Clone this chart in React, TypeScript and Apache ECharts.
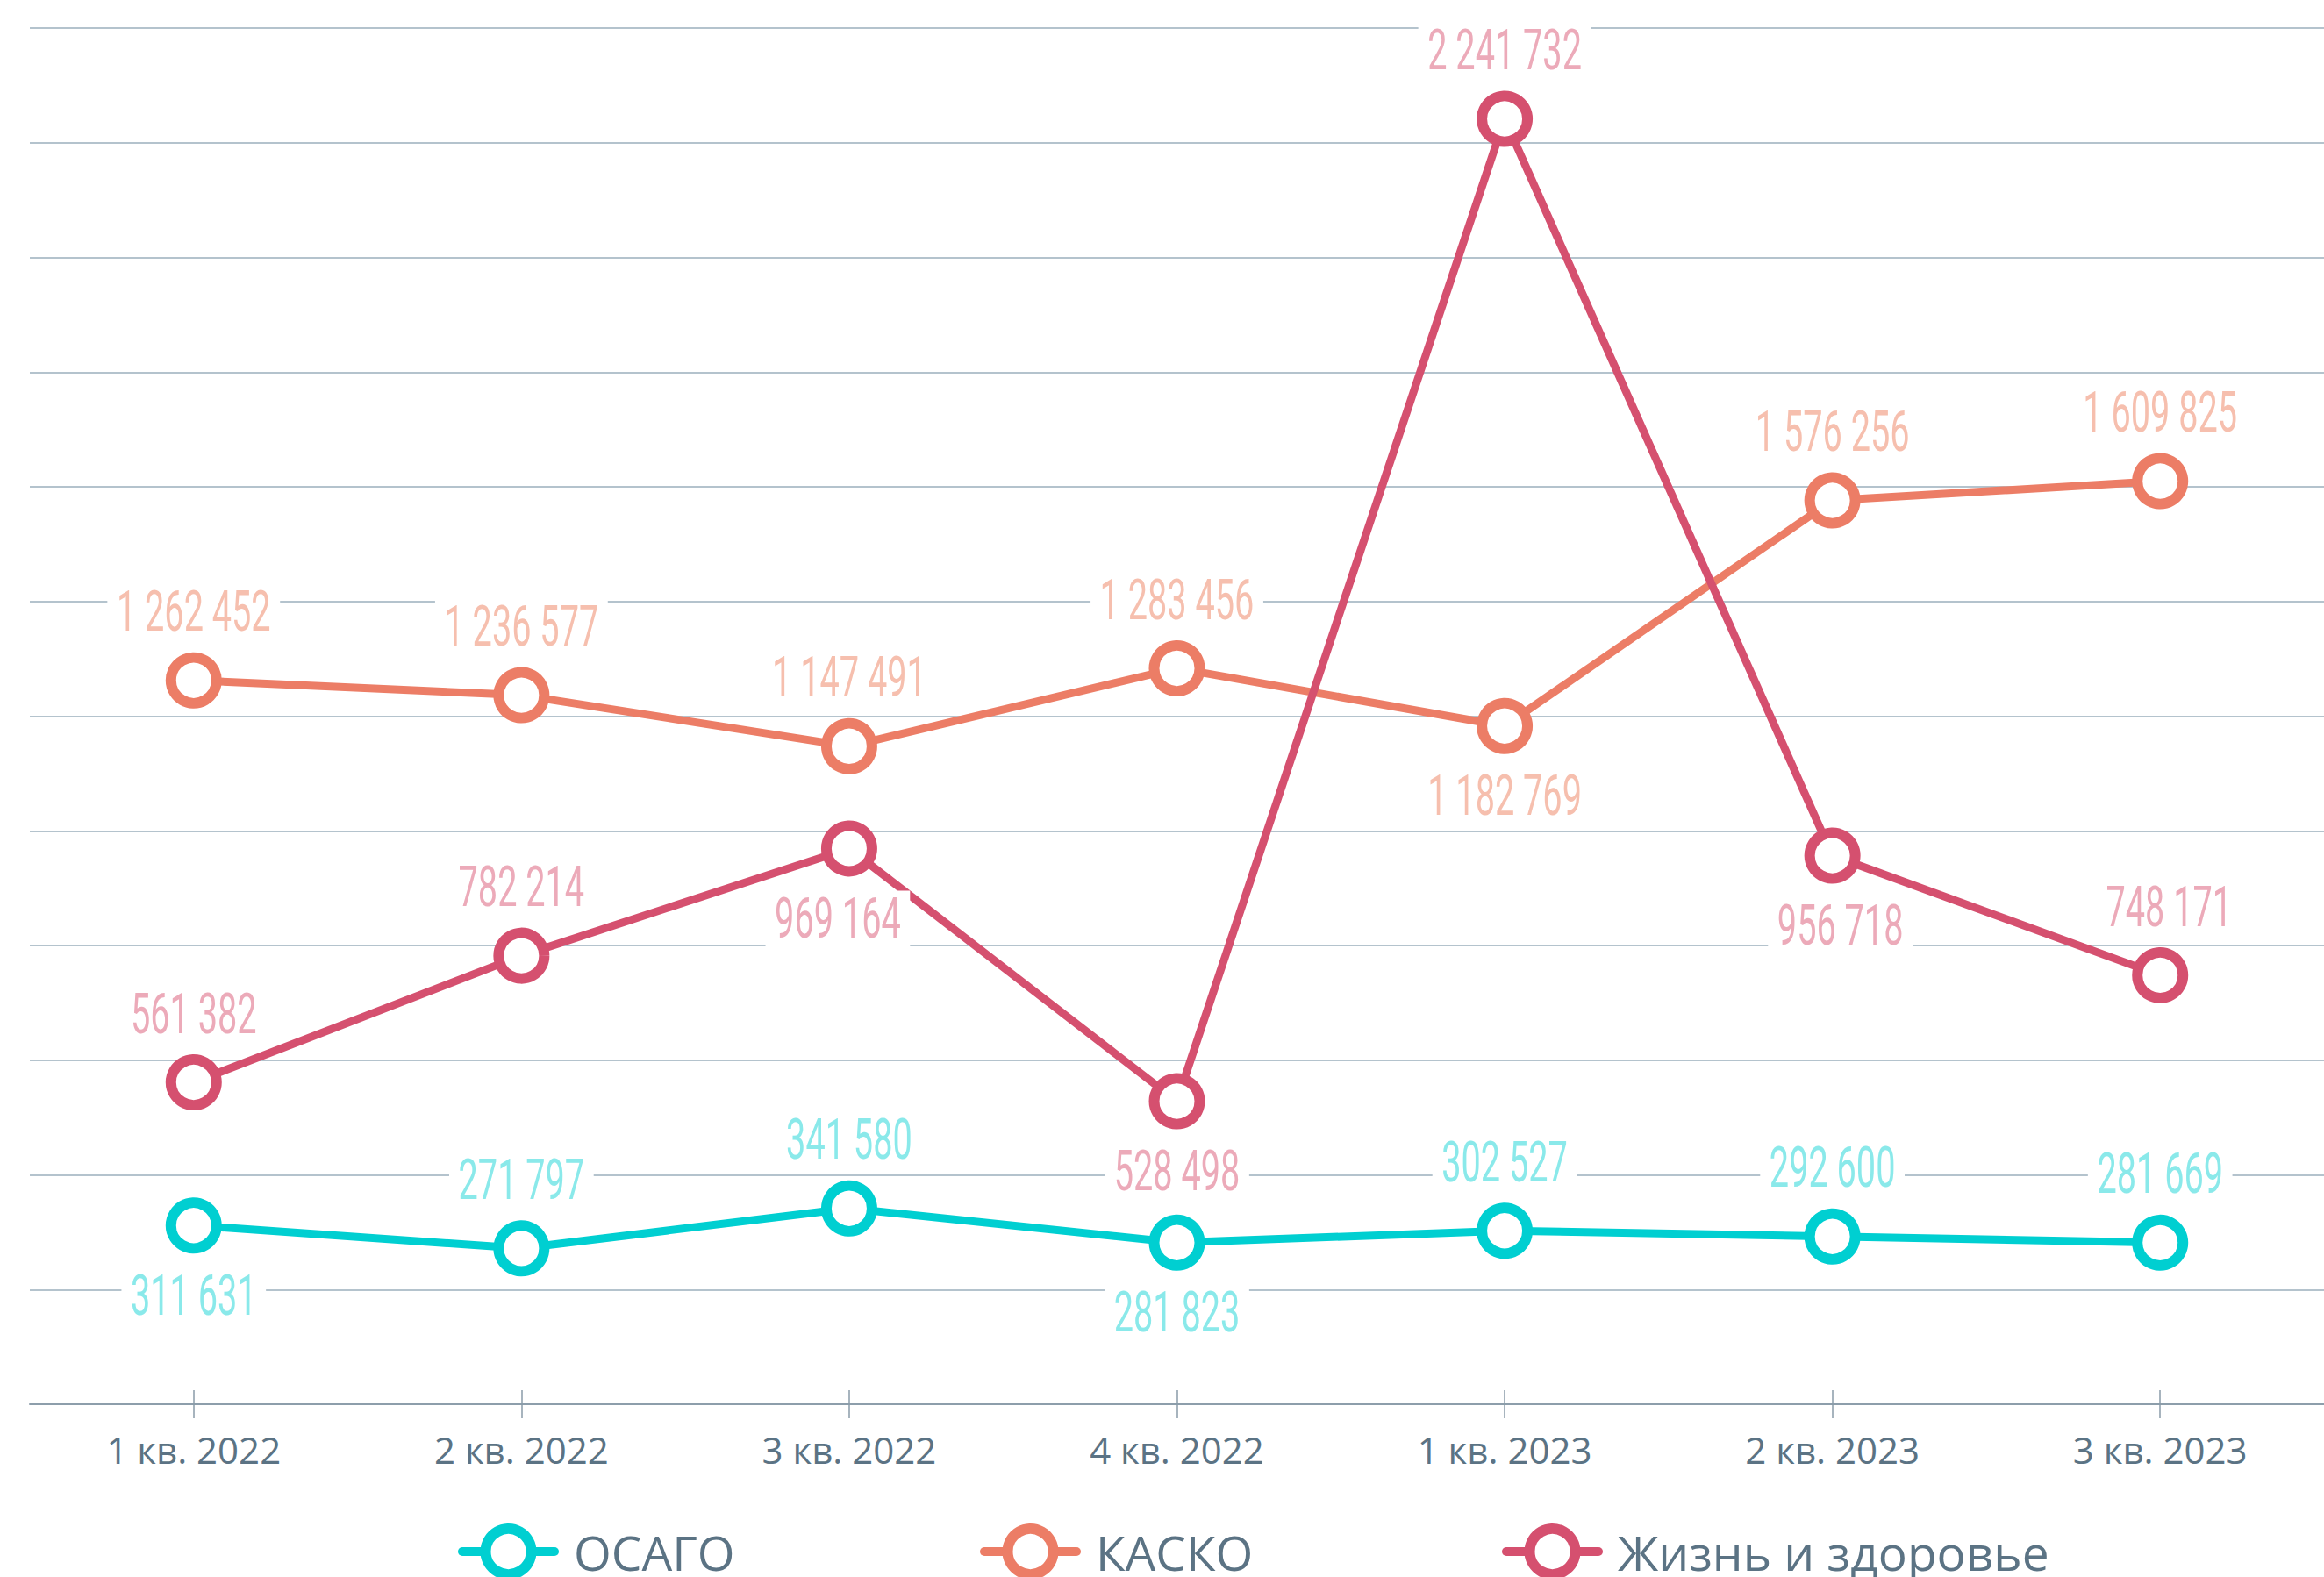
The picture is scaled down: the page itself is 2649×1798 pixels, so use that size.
import React, { useEffect, useRef } from "react";
import * as echarts from "echarts";

const categories = ["1 кв. 2022", "2 кв. 2022", "3 кв. 2022", "4 кв. 2022", "1 кв. 2023", "2 кв. 2023", "3 кв. 2023"];
const seriesNames = ["ОСАГО", "КАСКО", "Жизнь и здоровье"];
const osago = [311631, 271797, 341580, 281823, 302527, 292600, 281669];
const kasko = [1262452, 1236577, 1147491, 1283456, 1182769, 1576256, 1609825];
const life = [561382, 782214, 969164, 528498, 2241732, 956718, 748171];

// label placement (layout only): 1 = above, -1 = below
const osagoSide = [-1, 1, 1, -1, 1, 1, 1];
const kaskoSide = [1, 1, 1, 1, -1, 1, 1];
const lifeSide = [1, 1, -1, -1, 1, -1, 1];
const zeroDx = [0, 0, 0, 0, 0, 0, 0];
const lifeDx = [0, 0, -13, 0, 0, 9, 10];

const lineColors = ["#00cfd1", "#ec7d66", "#d5506f"];
const labelColors = ["#8ae9ea", "#f6bfae", "#ecaab9"];

const fmt = (v: number) => String(v).replace(/\B(?=(\d{3})+(?!\d))/g, " ");

export default function App() {
  const ref = useRef<HTMLDivElement>(null);
  useEffect(() => {
    if (!ref.current) return;
    const chart = echarts.init(ref.current, null, { renderer: "svg" });
    const mkLine = (idx: number, vals: number[]) => ({
      name: seriesNames[idx],
      type: "line",
      xAxisIndex: 0,
      yAxisIndex: 0,
      symbol: "circle",
      symbolSize: 52,
      z: 2 + idx,
      lineStyle: { color: lineColors[idx], width: 9 },
      itemStyle: { color: "#fff", borderColor: lineColors[idx], borderWidth: 12 },
      emphasis: { disabled: true },
      label: { show: false },
      data: vals,
    });
    const mkLabels = (idx: number, vals: number[], sides: number[], dxs: number[]) => ({
      name: seriesNames[idx] + "-labels",
      type: "custom",
      xAxisIndex: 0,
      yAxisIndex: 0,
      z: 10,
      silent: true,
      encode: { x: 0, y: 1 },
      data: vals.map((v, i) => [i, v, sides[i], dxs[i]]),
      renderItem: (params: any, api: any) => {
        const i = api.value(0);
        const v = api.value(1);
        const side = api.value(2);
        const dx = api.value(3);
        const pt = api.coord([i, v]);
        return {
          type: "text",
          x: pt[0] + dx,
          y: pt[1] + (side > 0 ? -78 : 80),
          scaleX: 0.62,
          style: {
            text: fmt(v),
            fill: labelColors[idx],
            fontSize: 64,
            fontWeight: 400,
            fontFamily: "Roboto, 'Noto Sans', sans-serif",
            align: "center",
            verticalAlign: "middle",
            backgroundColor: "#fff",
            padding: [0, 17],
          },
        };
      },
    });
    const legendCommon = (idx: number, left: number) => ({
      show: true,
      data: [seriesNames[idx]],
      left,
      top: 1732,
      orient: "horizontal",
      itemWidth: 105,
      itemHeight: 65,
      selectedMode: false,
      itemStyle: { color: "#fff", borderColor: lineColors[idx], borderWidth: 12 },
      lineStyle: { color: lineColors[idx], width: 10, cap: "round" },
      textStyle: {
        color: "#5b7384",
        fontSize: 55,
        fontFamily: "'Open Sans', 'Noto Sans', sans-serif",
        padding: [0, 0, 0, 17],
      },
    });
    chart.setOption({
      animation: false,
      backgroundColor: "#fff",
      grid: { left: 34, right: 0, top: 32, bottom: 197, containLabel: false },
      legend: [legendCommon(0, 517), legendCommon(1, 1112), legendCommon(2, 1707)],
      xAxis: [
        {
          type: "category",
          data: categories,
          boundaryGap: true,
          position: "bottom",
          axisLine: { show: true, lineStyle: { color: "#8d9eab", width: 2 } },
          axisTick: { show: true, alignWithLabel: true, length: 16, lineStyle: { color: "#8a9ba8", width: 1.5 } },
          axisLabel: {
            color: "#5b7384",
            fontSize: 42,
            fontFamily: "'Open Sans', 'Noto Sans', sans-serif",
            margin: 30,
          },
          splitLine: { show: false },
        },
        {
          type: "category",
          data: categories,
          boundaryGap: true,
          position: "bottom",
          axisLine: { show: false },
          axisTick: { show: true, inside: true, alignWithLabel: true, length: 16, lineStyle: { color: "#8a9ba8", width: 1.5 } },
          axisLabel: { show: false },
          splitLine: { show: false },
        },
      ],
      yAxis: {
        type: "value",
        min: 0,
        max: 2400000,
        interval: 200000,
        axisLabel: { show: false },
        axisLine: { show: false },
        axisTick: { show: false },
        splitLine: { show: true, lineStyle: { color: "#b4c3cd", width: 2 } },
      },
      series: [
        mkLine(0, osago),
        mkLine(1, kasko),
        mkLine(2, life),
        mkLabels(0, osago, osagoSide, zeroDx),
        mkLabels(1, kasko, kaskoSide, zeroDx),
        mkLabels(2, life, lifeSide, lifeDx),
      ],
    });
    return () => chart.dispose();
  }, []);
  return (
    <div
      ref={ref}
      style={{ position: "fixed", left: 0, top: 0, width: 2649, height: 1798, background: "#fff" }}
    />
  );
}
